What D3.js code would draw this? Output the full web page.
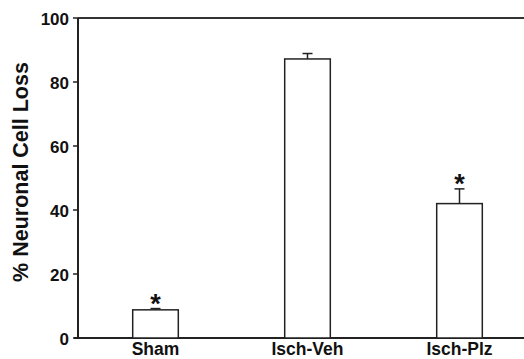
<!DOCTYPE html>
<html lang="en">
<head>
    <meta charset="UTF-8">
    <title>% Neuronal Cell Loss</title>
    <script src="https://d3js.org/d3.v7.min.js"></script>
    <style>
        body { margin: 0; background: #fff; }
        svg { display: block; }
        text { font-family: Arial, "Liberation Sans", Helvetica, sans-serif; font-weight: bold; fill: #111; }
        .tick { font-size: 17px; }
        .cat { font-size: 17.5px; }
        .title { font-size: 21.5px; }
        .star { font-size: 27px; }
    </style>
</head>
<body>
    <svg width="524" height="359"></svg>
    <script>
        // data
        const groups = ["Sham", "Isch-Veh", "Isch-Plz"];
        const means = [8.8, 87.2, 42.0];
        const sems = [0.4, 1.7, 4.6];
        const significant = [true, false, true];
        const yTicks = [0, 20, 40, 60, 80, 100];

        const svg = d3.select("svg");
        const axisX = 78, plotTop = 18, plotBottom = 338;

        const x = d3.scaleBand().domain(groups).range([79.5, 535.5]).padding(0);
        const y = d3.scaleLinear().domain([0, 100]).range([plotBottom, plotTop]);
        const barW = x.bandwidth() * 0.3;

        const rows = groups.map((g, i) => ({ name: g, mean: means[i], sem: sems[i], sig: significant[i] }));

        // frame: top line, y axis, baseline
        svg.append("line").attr("x1", axisX).attr("x2", 524).attr("y1", y(100)).attr("y2", y(100))
            .attr("stroke", "#333").attr("stroke-width", 2);
        svg.append("line").attr("x1", axisX).attr("x2", axisX).attr("y1", y(100)).attr("y2", y(0))
            .attr("stroke", "#222").attr("stroke-width", 2);
        svg.append("line").attr("x1", 74).attr("x2", 524).attr("y1", y(0)).attr("y2", y(0))
            .attr("stroke", "#222").attr("stroke-width", 2);

        // y ticks
        svg.selectAll(".tk").data(yTicks).enter().append("line")
            .attr("x1", 73).attr("x2", axisX).attr("y1", d => y(d)).attr("y2", d => y(d))
            .attr("stroke", "#222").attr("stroke-width", 1.5);
        svg.selectAll(".tick").data(yTicks).enter().append("text")
            .attr("class", "tick")
            .attr("x", 69).attr("y", d => y(d)).attr("dy", "0.4em")
            .attr("text-anchor", "end")
            .text(d => d);

        // bars
        svg.selectAll(".bar").data(rows).enter().append("rect")
            .attr("x", d => x(d.name) + x.bandwidth() / 2 - barW / 2)
            .attr("width", barW)
            .attr("y", d => y(d.mean))
            .attr("height", d => y(0) - y(d.mean))
            .attr("fill", "#fff").attr("stroke", "#222").attr("stroke-width", 1.5);

        // error bars (upper only)
        const cx = d => x(d.name) + x.bandwidth() / 2;
        svg.selectAll(".err").data(rows).enter().append("line")
            .attr("x1", cx).attr("x2", cx)
            .attr("y1", d => y(d.mean)).attr("y2", d => y(d.mean + d.sem))
            .attr("stroke", "#222").attr("stroke-width", 1.5);
        svg.selectAll(".cap").data(rows).enter().append("line")
            .attr("x1", d => cx(d) - 5).attr("x2", d => cx(d) + 5)
            .attr("y1", d => y(d.mean + d.sem)).attr("y2", d => y(d.mean + d.sem))
            .attr("stroke", "#222").attr("stroke-width", 1.5);

        // significance stars
        svg.selectAll(".star").data(rows.filter(d => d.sig)).enter().append("text")
            .attr("class", "star")
            .attr("x", cx).attr("y", d => y(d.mean + d.sem) + 4)
            .attr("text-anchor", "middle")
            .text("*");

        // category labels
        svg.selectAll(".cat").data(rows).enter().append("text")
            .attr("class", "cat")
            .attr("x", cx).attr("y", 355)
            .attr("text-anchor", "middle")
            .text(d => d.name);

        // y title
        svg.append("text").attr("class", "title")
            .attr("transform", "translate(28,172) rotate(-90)")
            .attr("text-anchor", "middle")
            .text("% Neuronal Cell Loss");
    </script>
</body>
</html>
